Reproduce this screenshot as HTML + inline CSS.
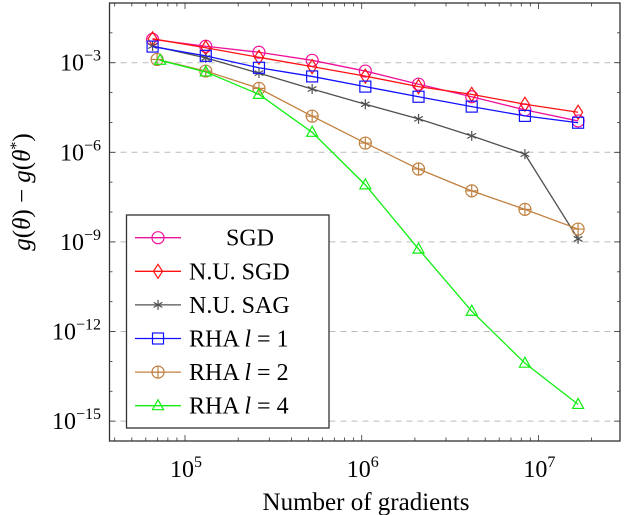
<!DOCTYPE html>
<html><head><meta charset="utf-8">
<style>
html,body{margin:0;padding:0;background:#fff;}
svg{display:block;font-family:"Liberation Serif",serif;}
</style></head>
<body>
<svg id="chart" width="640" height="515" viewBox="0 0 640 515"></svg>
<script>
const xBase = [65536,131072,262144,524288,1048576,2097152,4194304,8388608,16777216];
const xFirstShift = [65536,69500,72300];
const sgdLog = [-2.22,-2.45,-2.65,-2.92,-3.28,-3.72,-4.14,-4.58,-4.95];
const nuSgdLog = [-2.20,-2.50,-2.82,-3.13,-3.45,-3.80,-4.06,-4.39,-4.66];
const nuSagLog = [-2.44,-2.84,-3.35,-3.88,-4.39,-4.88,-5.45,-6.06,-8.90];
const rha1Log = [-2.46,-2.77,-3.17,-3.46,-3.80,-4.14,-4.47,-4.78,-5.01];
const rha2Log = [-2.89,-3.28,-3.86,-4.79,-5.69,-6.56,-7.29,-7.91,-8.57];
const rha4Log = [-2.92,-3.31,-4.06,-5.33,-7.09,-9.24,-11.32,-13.06,-14.44];
const yTickExp = [-3,-6,-9,-12,-15];
const xTickExp = [5,6,7];

const L=109.5,R=620,T=3,B=441;
const X=v=>185+(Math.log10(v)-5)*176.7;
const Y=e=>62.7-(e+3)*29.87;
const NS="http://www.w3.org/2000/svg";
const svg=document.getElementById('chart');
function mk(tag,attrs,parent){const e=document.createElementNS(NS,tag);for(const k in attrs)e.setAttribute(k,attrs[k]);(parent||svg).appendChild(e);return e;}

yTickExp.forEach(e=>{
  const g=mk('line',{x1:L,x2:R,y1:Y(e),y2:Y(e),stroke:'#bbb','stroke-width':1,'stroke-dasharray':'6,5'});
  
  
});
const box=mk('rect',{x:L,y:T,width:R-L,height:B-T,fill:'none',stroke:'#333','stroke-width':1.3});


for(let d=4;d<=7;d++){for(let m=1;m<=9;m++){const v=m*Math.pow(10,d);const x=X(v);if(x<L||x>R)continue;const len=m===1?6:3.5;
  mk('line',{x1:x,x2:x,y1:B,y2:B-len,stroke:'#333','stroke-width':0.8});
  mk('line',{x1:x,x2:x,y1:T,y2:T+len,stroke:'#333','stroke-width':0.8});}}
for(let e=-15;e<=-1;e++){const y=Y(e);if(y<T||y>B)continue;const len=yTickExp.includes(e)?6:3;
  mk('line',{x1:L,x2:L+len,y1:y,y2:y,stroke:'#333','stroke-width':0.8});
  mk('line',{x1:R,x2:R-len,y1:y,y2:y,stroke:'#333','stroke-width':0.8});}
yTickExp.forEach(e=>{
  const t=mk('text',{x:101,y:Y(e)+8,'text-anchor':'end','font-size':24});
  
  
  t.innerHTML='10<tspan font-size="16" dy="-10">\u2212'+(-e)+'</tspan>';
});
xTickExp.forEach(e=>{
  const t=mk('text',{x:X(Math.pow(10,e))+1,y:477,'text-anchor':'middle','font-size':24});
  
  
  t.innerHTML='10<tspan font-size="16" dy="-10">'+e+'</tspan>';
});
const xt=mk('text',{x:366,y:510,'text-anchor':'middle','font-size':25});


xt.textContent='Number of gradients';
const yt=mk('text',{x:0,y:0,'text-anchor':'middle','font-size':25,transform:'translate(30,192) rotate(-90)'});


yt.innerHTML='<tspan font-style="italic">g</tspan>(<tspan font-style="italic">θ</tspan>) − <tspan font-style="italic">g</tspan>(<tspan font-style="italic">θ</tspan><tspan font-size="16" dy="-9">*</tspan><tspan dy="9">)</tspan>';

function marker(type,x,y,color,parent){
  const s=6;
  if(type==='circle')return mk('circle',{cx:x,cy:y,r:s,fill:'none',stroke:color,'stroke-width':1.2},parent);
  if(type==='diamond')return mk('polygon',{points:`${x},${y-7} ${x+4.5},${y} ${x},${y+7} ${x-4.5},${y}`,fill:'none',stroke:color,'stroke-width':1.2},parent);
  if(type==='square')return mk('rect',{x:x-5.5,y:y-5.5,width:11,height:11,fill:'none',stroke:color,'stroke-width':1.2},parent);
  if(type==='oplus'){const g=mk('g',{},parent);mk('circle',{cx:x,cy:y,r:s,fill:'none',stroke:color,'stroke-width':1.2},g);mk('path',{d:`M${x-s},${y}H${x+s}M${x},${y-s}V${y+s}`,stroke:color,'stroke-width':1.2},g);return g;}
  if(type==='tri')return mk('polygon',{points:`${x},${y-6} ${x+5.5},${y+4} ${x-5.5},${y+4}`,fill:'none',stroke:color,'stroke-width':1.2},parent);
  if(type==='star'){const g=mk('g',{},parent);let d='';for(let i=0;i<3;i++){const a=Math.PI/2+i*Math.PI/3;d+=`M${x+5*Math.cos(a)},${y-5*Math.sin(a)}L${x-5*Math.cos(a)},${y+5*Math.sin(a)}`;}mk('path',{d,stroke:color,'stroke-width':1.2},g);return g;}
}
const series=[
 {name:'sgd',label:'SGD',data:sgdLog,color:'#ee1199',m:'circle',x0:0},
 {name:'nu-sgd',label:'N.U. SGD',data:nuSgdLog,color:'#ff1111',m:'diamond',x0:0},
 {name:'nu-sag',label:'N.U. SAG',data:nuSagLog,color:'#505050',m:'star',x0:0},
 {name:'rha-l1',label:'RHA l=1',data:rha1Log,color:'#1111ff',m:'square',x0:0},
 {name:'rha-l2',label:'RHA l=2',data:rha2Log,color:'#c08040',m:'oplus',x0:1},
 {name:'rha-l4',label:'RHA l=4',data:rha4Log,color:'#11ee11',m:'tri',x0:2},
];
series.forEach(s=>{
  const g=mk('g',{});
  
  
  const pts=s.data.map((v,i)=>[X(i===0?xFirstShift[s.x0]:xBase[i]),Y(v)]);
  const pl=mk('polyline',{points:pts.map(p=>p.join(',')).join(' '),fill:'none',stroke:s.color,'stroke-width':1.3},g);
  
  
  pts.forEach(p=>{const m=marker(s.m,p[0],p[1],s.color,g);
    
    });
});
const lg=mk('g',{});


mk('rect',{x:126.5,y:215,width:202.5,height:213,fill:'#fff',stroke:'#333','stroke-width':1.3},lg);
const labels=['SGD','N.U. SGD','N.U. SAG','RHA <tspan font-style="italic">l</tspan> = 1','RHA <tspan font-style="italic">l</tspan> = 2','RHA <tspan font-style="italic">l</tspan> = 4'];
series.forEach((s,i)=>{
  const y=237.7+i*33.6;
  const e=mk('g',{},lg);
  
  
  mk('line',{x1:135,x2:181,y1:y,y2:y,stroke:s.color,'stroke-width':1.3},e);
  marker(s.m,158,y,s.color,e);
  const t=mk('text',{x:i===0?250:189,y:y+8,'font-size':24,'text-anchor':i===0?'middle':'start'},e);
  t.innerHTML=labels[i];
});
</script>
</body></html>
